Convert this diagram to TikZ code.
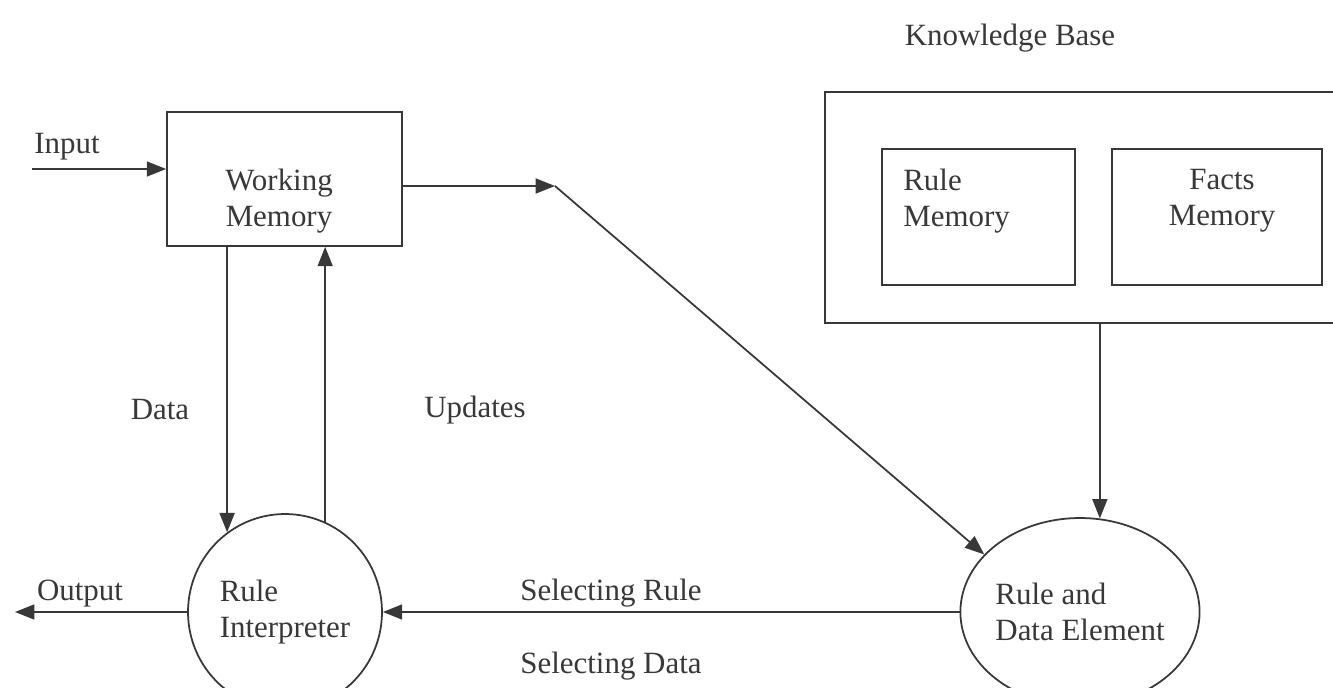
\documentclass[tikz,border=0pt]{standalone}
\usepackage{fontspec}
\setmainfont{Liberation Serif}
\usetikzlibrary{arrows.meta,shapes.geometric}
\definecolor{ink}{HTML}{383838}
\tikzset{
  box/.style={draw=ink, line width=1pt, rectangle, inner sep=0pt},
  oval/.style={draw=ink, line width=1pt, ellipse, inner sep=0pt, align=left, text=ink},
  lbl/.style={text=ink, inner sep=0pt, align=center},
  arr/.style={draw=ink, line width=1pt, -{Triangle[length=11pt,width=8.5pt]}},
}

\begin{document}
\begin{tikzpicture}[x=0.02cm, y=-0.02cm, font=\fontsize{17.6}{20.5}\selectfont]
        \useasboundingbox (0,0) rectangle (1333,687);
        \fill[white] (0,0) rectangle (1333,687);

        % Memoria de trabajo
        \node[box, minimum width=4.7cm, minimum height=2.68cm] (wm) at (284.5,179) {};
        \node[lbl] (wmtext) at (279,201) {Working\\Memory};

        % Base de conocimiento
        \node[lbl] (kblabel) at (1010,38) {Knowledge Base};
        \node[box, minimum width=10.4cm, minimum height=4.62cm] (kb) at (1085,207.5) {};
        \node[box, minimum width=3.86cm, minimum height=2.72cm] (rm) at (978.5,217) {};
        \node[lbl, anchor=west, align=left] (rmtext) at (903,201) {Rule\\Memory};
        \node[box, minimum width=4.2cm, minimum height=2.72cm] (fm) at (1217,217) {};
        \node[lbl] (fmtext) at (1222,201) {Facts\\Memory};

        % Elipses
        \node[oval, minimum width=3.88cm, minimum height=3.92cm] (ri) at (285,612) {Rule\\Interpreter};
        \node[oval, minimum width=4.72cm, minimum height=3.76cm] (rde) at (1080,612) {Rule and\\Data Element};

        % Flechas
        \coordinate (in) at (32,169);
        \draw[arr] (in) -- (in -| wm.west);
        \node[lbl] (inlabel) at (67,147) {Input};

        \coordinate (turn) at (555,186);
        \draw[arr] (turn -| wm.east) -- (turn);
        \draw[arr] (turn) -- (rde.149);

        \draw[arr] (ri.126 |- wm.south) -- (ri.126);
        \node[lbl] (datalabel) at (160,410) {Data};
        \draw[arr] (ri.66) -- (ri.66 |- wm.south);
        \node[lbl] (updlabel) at (475,410) {Updates};

        \draw[arr] (rde.78 |- kb.south) -- (rde.78);

        \draw[arr] (rde.west) -- (ri.east);
        \node[lbl] (selrule) at (611,593) {Selecting Rule};
        \node[lbl] (seldata) at (611,666) {Selecting Data};

        \coordinate (out) at (15,612);
        \draw[arr] (ri.west) -- (out);
        \node[lbl] (outlabel) at (80,594) {Output};
    \end{tikzpicture}
\end{document}
